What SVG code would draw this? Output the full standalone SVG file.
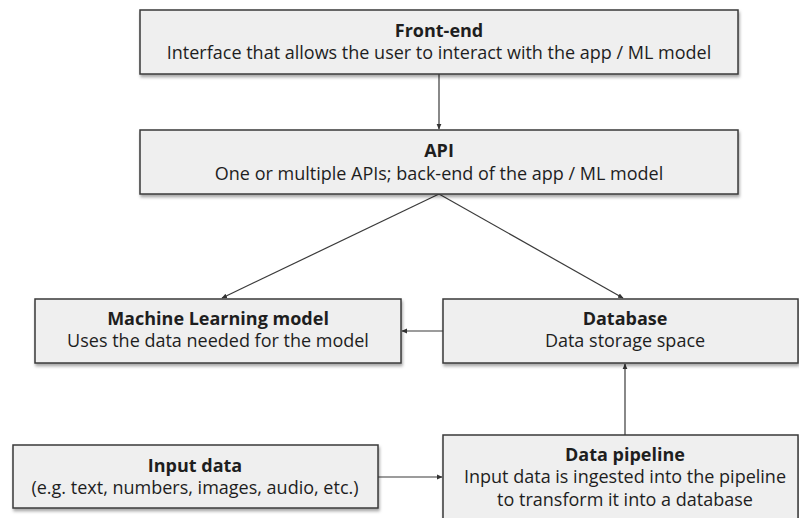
<svg xmlns="http://www.w3.org/2000/svg" width="799" height="518" viewBox="0 0 799 518">
<defs>
<filter id="sh" x="-5%" y="-10%" width="112%" height="130%">
<feDropShadow dx="1" dy="2.5" stdDeviation="1.5" flood-color="#000" flood-opacity="0.35"/>
</filter>
<marker id="ah" markerWidth="6" markerHeight="6" refX="5" refY="3" orient="auto" markerUnits="userSpaceOnUse">
<path d="M0,0.6 L5.5,3 L0,5.4 Z" fill="#333"/>
</marker>
<style>
.box{fill:#efefef;stroke:#3a3a3a;stroke-width:1.5;filter:url(#sh)}
.t{font-family:"Open Sans","Noto Sans",sans-serif;font-size:18px;fill:#1e1e1e;text-anchor:middle}
.b{font-weight:bold}
.c{stroke:#3a3a3a;stroke-width:1.2;fill:none;marker-end:url(#ah)}
</style>
</defs>
<rect width="799" height="518" fill="#fff"/>
<g id="connectors">
<line class="c" x1="439" y1="74" x2="439" y2="129"/>
<line class="c" x1="439" y1="194" x2="222" y2="298"/>
<line class="c" x1="439" y1="194" x2="623" y2="298"/>
<line class="c" x1="443" y1="331" x2="402" y2="331"/>
<line class="c" x1="625" y1="435" x2="625" y2="364"/>
<line class="c" x1="378" y1="477" x2="442" y2="477"/>
</g>
<g id="frontend">
<rect class="box" x="140" y="10" width="598" height="64"/>
<text class="t b" x="439" y="37">Front-end</text>
<text class="t" x="439" y="59">Interface that allows the user to interact with the app / ML model</text>
</g>
<g id="api">
<rect class="box" x="140" y="130" width="598" height="64"/>
<text class="t b" x="439" y="157">API</text>
<text class="t" x="439" y="180">One or multiple APIs; back-end of the app / ML model</text>
</g>
<g id="ml">
<rect class="box" x="35" y="299" width="366" height="64"/>
<text class="t b" x="218" y="325">Machine Learning model</text>
<text class="t" x="218" y="347">Uses the data needed for the model</text>
</g>
<g id="database">
<rect class="box" x="443" y="299" width="355" height="64"/>
<text class="t b" x="625" y="325">Database</text>
<text class="t" x="625" y="347">Data storage space</text>
</g>
<g id="input">
<rect class="box" x="13" y="445" width="365" height="63"/>
<text class="t b" x="195" y="472">Input data</text>
<text class="t" x="195" y="494">(e.g. text, numbers, images, audio, etc.)</text>
</g>
<g id="pipeline">
<rect class="box" x="443" y="435" width="355" height="100"/>
<text class="t b" x="625" y="461">Data pipeline</text>
<text class="t" x="625" y="483">Input data is ingested into the pipeline</text>
<text class="t" x="625" y="506">to transform it into a database</text>
</g>
</svg>
